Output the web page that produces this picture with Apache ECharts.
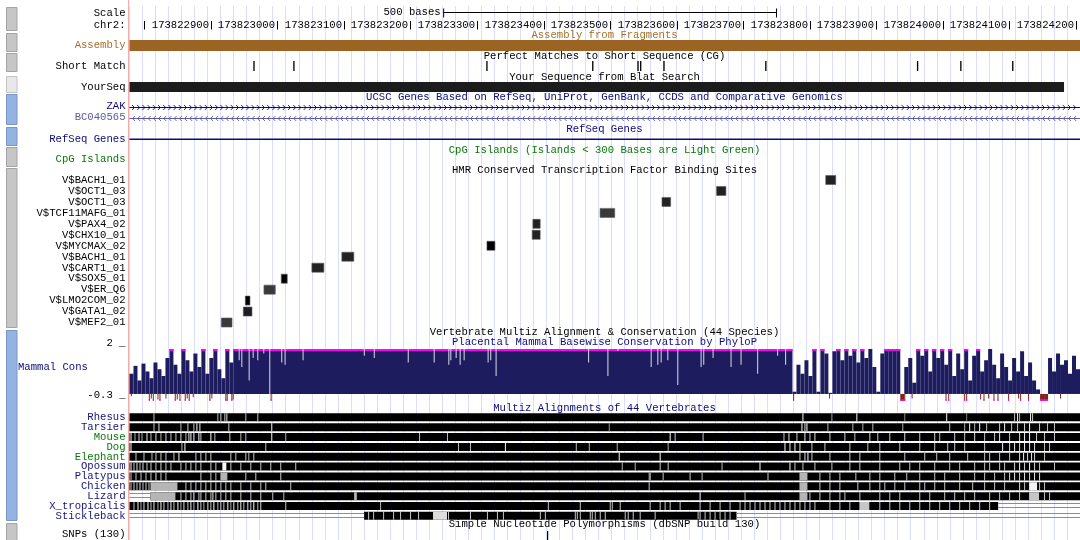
<!DOCTYPE html>
<html><head><meta charset="utf-8">
<script src="https://cdn.jsdelivr.net/npm/echarts@6/dist/echarts.min.js"></script>
<style>html,body{margin:0;padding:0;background:#fff}#c{width:1080px;height:540px}</style>
</head><body><div id="c"></div><script>
// ---------------- DATA ----------------
const chromName = 'chr2:';
const regionStart = 173822778;
const regionEnd = 173824206;
const tickValues = [173822800,173822900,173823000,173823100,173823200,173823300,173823400,173823500,173823600,173823700,173823800,173823900,173824000,173824100,173824200];
const scaleBarSpan = [173823250, 173823750];
const scaleBarLabel = '500 bases';
const assemblySpan = [173822778, 173824206];
const shortMatchStarts = [173822964,173823024,173823314,173823473,173823541,173823545,173823580,173823733,173823961,173824026,173824104];
const shortMatchLength = 2;
const yourSeqSpan = [173822778, 173824182];
const geneNames = ['ZAK', 'BC040565'];
const geneStrands = ['+', '-'];
const geneSpans = [[173822778, 173824206], [173822778, 173824206]];
const refSeqSpan = [173822778, 173824206];
const tfNames = ['V$BACH1_01','V$OCT1_03','V$OCT1_03','V$TCF11MAFG_01','V$PAX4_02','V$CHX10_01','V$MYCMAX_02','V$BACH1_01','V$CART1_01','V$SOX5_01','V$ER_Q6','V$LMO2COM_02','V$GATA1_02','V$MEF2_01'];
const tfStarts = [173823824,173823660,173823578,173823485,173823384,173823383,173823315,173823097,173823052,173823006,173822980,173822952,173822949,173822916];
const tfEnds   = [173823839,173823674,173823591,173823507,173823395,173823395,173823327,173823115,173823070,173823015,173822997,173822959,173822962,173822932];
const tfShades = [34,34,34,58,34,34,0,34,34,0,58,0,30,58];
// PhyloP conservation (6-base bins, values above 2 are clipped on display)
const consBinSize = 6;
const consLeftStart = 173822778;
const consLeftValues = [0.9,1.25,0.6,1.35,1.0,0.7,1.4,1.1,0.8,1.6,2.5,1.3,0.9,2.5,1.5,1.0,1.8,1.2,2.5,0.9,1.6,2.5,1.1,0.7,2.5,1.4];
const consCoreSpan = [173822934, 173823774];
const consCoreValue = 2.5;
const consRightStart = 173823774;
const consRightValues = [0.1,1.3,0.9,1.5,0.8,2.5,0.1,2.5,1.8,0.05,1.9,2.5,1.5,2.5,1.7,2.5,1.4,2.5,1.6,2.0,1.2,0.1,1.8,2.5,2.5,2.5,2.5,-0.5,1.2,1.6,0.5,2.5,1.7,2.5,1.0,2.5,1.6,2.5,1.3,2.5,0.8,1.8,1.1,2.5,0.6,1.7,2.5,1.0,1.5,2.0,1.3,0.7,1.8,1.2,0.6,1.6,1.0,1.9,0.8,1.4,0.6,0.2,-0.5,-0.5,1.6,1.0,1.8,1.3,1.5,0.9,1.7,1.1];
const consDips = [[173822942,1.5],[173822946,1.2],[173822957,0.6],[173822963,1.6],[173822970,1.5],[173822979,1.8],[173822988,0],[173823006,1.4],[173823011,1.3],[173823038,1.5],[173823130,1.7],[173823145,1.6],[173823196,1.4],[173823235,1.4],[173823257,1.3],[173823260,1.5],[173823268,1.6],[173823274,1.3],[173823280,1.5],[173823316,1.4],[173823320,1.5],[173823328,0.8],[173823467,1.4],[173823496,0.8],[173823511,1.9],[173823561,1.2],[173823571,1.3],[173823576,1.4],[173823586,1.5],[173823601,0.4],[173823636,1.2],[173823640,1.3],[173823654,1.6],[173823681,1.2],[173823696,1.3],[173823721,0.9],[173823751,1.7],[173823763,1.3]];
const consNegatives = [[173822780,-0.1],[173822807,-0.3],[173822810,-0.2],[173822813,-0.3],[173822820,-0.25],[173822823,-0.3],[173822832,-0.2],[173822846,-0.3],[173822849,-0.25],[173822853,-0.3],[173822861,-0.3],[173822864,-0.2],[173822867,-0.3],[173822873,-0.15],[173822898,-0.3],[173822901,-0.2],[173822922,-0.3],[173822924,-0.3],[173822931,-0.3],[173822933,-0.25],[173822990,-0.3],[173823775,-0.3],[173823829,-0.2],[173823938,-0.3],[173823942,-0.3],[173823953,-0.2],[173824004,-0.3],[173824008,-0.3],[173824032,-0.3],[173824035,-0.3],[173824056,-0.25],[173824061,-0.3],[173824068,-0.2],[173824076,-0.3],[173824082,-0.3],[173824098,-0.3],[173824113,-0.2],[173824116,-0.3],[173824128,-0.3],[173824176,-0.2]];
const consMin = -0.3, consMax = 2;
// Multiz alignments: marks are [offset from regionStart (bases), gray level, width in bases]
const speciesNames = ['Rhesus','Tarsier','Mouse','Dog','Elephant','Opossum','Platypus','Chicken','Lizard','X_tropicalis','Stickleback'];
const speciesColors = ['#14147a','#14147a','#0a780a','#0a780a','#0a780a','#14147a','#14147a','#14147a','#14147a','#14147a','#14147a'];
const mzRhesus = [[36,150],[132,140],[136.5,160],[142.5,150],[145.5,170],[174,140],[192,150],[1011,230],[1054.5,120],[1092,200],[1164,100],[1227,200],[1257,90],[1329,150],[1333.5,200],[1336.5,130],[1353,200],[1356,160]];
const mzTarsier = [[36,150],[43.5,170],[76.5,140],[87,160],[96,150],[100.5,200],[105,180],[148.5,160],[213,200],[720,110],[1009.5,200],[1014,170],[1017,200],[1048.5,140],[1086,140],[1101,130],[1116,140],[1161,130],[1231.5,150],[1254,130],[1261.5,200],[1269,140],[1276.5,200],[1287,150],[1306.5,160],[1314,200],[1324.5,150],[1333.5,150],[1344,170],[1351.5,200],[1366.5,160],[1378.5,150],[1389,150]];
const mzMouse = [[1.5,200],[7.5,130],[13.5,160],[18,130],[25.5,180],[31.5,140],[39,170],[46.5,130],[54,160],[61.5,140],[69,150],[76.5,170],[84,140],[88.5,180],[91.5,200],[96,210],[103.5,200],[106.5,150],[121.5,200],[127.5,140],[150,150],[166.5,130],[174,140],[213,230],[234,130],[435,140],[477,140],[811.5,200],[819,150],[861,150],[982.5,150],[990,170],[1002,150],[1014,180],[1021.5,150],[1029,170],[1051.5,150],[1074,160],[1089,140],[1111.5,160],[1123.5,150],[1141.5,150],[1164,170],[1186.5,150],[1209,160],[1216.5,140],[1239,160],[1254,150],[1269,170],[1284,150],[1299,160],[1306.5,180],[1321.5,150],[1336.5,170],[1344,200],[1351.5,210],[1362,160],[1374,150],[1389,150]];
const mzDog = [[1.5,200],[78,140],[82.5,200],[204,140],[493.5,140],[511.5,140],[564,200],[670.5,140],[690,130],[732,130],[808.5,130],[984,200],[991.5,180],[999,200],[1006.5,170],[1024.5,150],[1044,150],[1081.5,150],[1108.5,150],[1126.5,140],[1156.5,150],[1186.5,150],[1209,150],[1228.5,150],[1239,150],[1254,150],[1284,150],[1311,200],[1321.5,170],[1329,190],[1336.5,170],[1344,200],[1351.5,180],[1359,170],[1374,150],[1381.5,150]];
const mzElephant = [[9,150],[21,150],[33,140],[39,150],[46.5,150],[54,150],[66,150],[73.5,200],[99,150],[106.5,150],[114,150],[121.5,150],[151.5,150],[159,140],[174,150],[178.5,140],[186,150],[735,230],[796.5,200],[1006.5,150],[1014,170],[1018.5,200],[1024.5,150],[1051.5,150],[1081.5,150],[1096.5,150],[1126.5,150],[1164,150],[1194,150],[1212,150],[1231.5,150],[1258.5,150],[1284,150],[1291.5,150],[1306.5,150],[1321.5,150],[1336.5,170],[1342.5,190],[1348.5,170],[1354.5,190],[1359,160],[1374,150]];
const mzOpossum = [[1.5,200],[6,150],[10.5,180],[15,140],[19.5,170],[25.5,150],[31.5,160],[39,150],[46.5,160],[54,150],[61.5,150],[76.5,150],[84,150],[91.5,150],[99,150],[106.5,150],[121.5,150],[129,150],[139.5,200,6],[151.5,150],[166.5,150],[181.5,150],[196.5,150],[211.5,150],[226.5,150],[249,150],[739.5,130],[759,130],[796.5,150],[808.5,150],[889.5,140],[946.5,200],[991.5,200],[999,150],[1011,150],[1029,150],[1054.5,150],[1081.5,150],[1096.5,150],[1126.5,150],[1156.5,150],[1171.5,150],[1186.5,150],[1209,150],[1231.5,150],[1246.5,150],[1269,150],[1284,150],[1291.5,150],[1306.5,150],[1314,150],[1329,170],[1336.5,190],[1344,170],[1351.5,200],[1359,170],[1366.5,150],[1389,150]];
const mzPlatypus = [[1.5,150],[9,150],[16.5,150],[24,150],[31.5,150],[39,180],[46.5,150],[54,150],[106.5,150],[121.5,150],[129,140],[136.5,136,10.5],[174,150],[189,150],[226.5,150],[780,140],[781.5,150],[801,150],[841.5,150],[859.5,140],[958.5,150],[1006.5,136,12],[1036.5,150],[1051.5,150],[1066.5,150],[1090.5,150],[1111.5,150],[1126.5,150],[1149,150],[1167,150],[1186.5,150],[1209,150],[1224,150],[1246.5,150],[1269,150],[1284,150],[1299,150],[1314,150],[1321.5,170],[1329,190],[1336.5,170],[1344,190],[1351.5,170],[1359,190],[1366.5,170]];
const mzChicken = [[1.5,150],[6,160],[10.5,150],[15,170],[19.5,150],[24,160],[28.5,150],[31.5,136,40.5],[84,150],[91.5,150],[99,150],[106.5,150],[114,150],[121.5,150],[129,150],[136.5,150],[144,150],[151.5,150],[166.5,150],[181.5,150],[196.5,150],[204,150],[241.5,150],[780,150],[1006.5,136,12],[1036.5,150],[1051.5,150],[1066.5,150],[1093.5,150],[1111.5,150],[1126.5,150],[1134,150],[1149,150],[1164,150],[1186.5,150],[1194,150],[1209,150],[1224,150],[1246.5,150],[1266,150],[1284,150],[1299,150],[1314,150],[1336.5,170],[1344,150],[1351.5,190,12],[1366.5,150],[1374,150]];
const mzLizard = [[31.5,136,37.5],[76.5,150],[84,150],[91.5,150],[96,220],[103.5,150],[106.5,150],[114,150],[121.5,150],[124.5,180],[129,150],[136.5,150],[144,150],[151.5,150],[166.5,150],[181.5,150],[196.5,150],[214.5,150],[231,140],[337.5,140,4],[856.5,230],[924,140],[1006.5,136,12],[1021.5,150],[1036.5,150],[1051.5,150],[1066.5,150],[1074,150],[1096.5,150],[1126.5,150],[1141.5,150],[1156.5,150],[1186.5,150],[1201.5,150],[1224,150],[1239,150],[1254,150],[1269,150],[1291.5,150],[1306.5,150],[1321.5,150],[1336.5,150],[1351.5,150,15],[1374,150],[1381.5,150]];
const mzXtrop = [[6,150],[12,190],[16.5,130],[21,170],[27,210],[31.5,150],[36,180],[42,130],[46.5,200],[51,160],[57,140],[61.5,190],[66,150],[72,210],[76.5,130],[81,170],[87,150],[91.5,190],[96,140],[102,200],[106.5,160],[111,130],[117,180],[121.5,150],[126,210],[132,140],[136.5,170],[141,150],[147,200],[151.5,130],[156,180],[162,150],[166.5,190],[171,140],[177,170],[181.5,150],[186,200],[192,140],[196.5,170],[234,150],[376.5,140],[628.5,150],[676.5,150],[721.5,150],[724.5,150],[736.5,150],[781.5,150],[796.5,150],[804,150],[811.5,150],[826.5,150],[856.5,150],[871.5,150],[886.5,150],[901.5,150],[916.5,150],[924,150],[931.5,150],[939,150],[946.5,150],[954,150],[961.5,150],[969,150],[976.5,150],[984,150],[991.5,150],[999,150],[1006.5,150],[1014,150],[1021.5,150],[1029,150],[1051.5,150],[1066.5,150],[1081.5,150],[1096.5,150,15],[1126.5,150],[1141.5,150],[1156.5,150],[1171.5,150],[1186.5,150],[1201.5,150],[1216.5,150],[1231.5,150],[1246.5,150],[1261.5,150],[1276.5,150],[1291.5,150]];
const mzStickleback = [[358.5,150],[366,150],[381,150],[396,150],[406.5,150],[421.5,150],[433.5,150],[456,170,21],[478.5,150],[511.5,150],[537,150],[552,150],[561,150],[616.5,150],[624,150],[669,150],[672,150],[676.5,150],[691.5,150],[694.5,150],[699,150],[706.5,150],[714,150],[744,150],[748.5,150],[756,150],[766.5,150],[789,150],[853.5,150],[856.5,150],[864,150],[871.5,150],[879,150],[886.5,150],[894,150],[901.5,150]];
const mzUnaligned = [[8,0,31.5],[9,1305,1428],[10,0,352.5],[10,912,1428]];
const snpPositions = [173823405];

// ---------------- LAYOUT / STYLE ----------------
const FONT = '"Liberation Mono","DejaVu Sans Mono",monospace';
const FS = 10.6;
const NAVY = '#0c0c78';
const GREEN = '#0a780a';
const BROWN = '#9b6423';
const LEFT = 129.5;
const font = FS + 'px ' + FONT;

const grids = [], xAxes = [], yAxes = [], series = [];
function addGrid(top, height, yAxis, xAxis) {
  const i = grids.length;
  grids.push({left: LEFT, right: 0, top: top, height: height});
  xAxes.push(Object.assign({type: 'value', gridIndex: i, min: regionStart, max: regionEnd, show: false}, xAxis || {}));
  yAxes.push(Object.assign({gridIndex: i}, yAxis));
  return i;
}
function catAxis(names, color) {
  return {type: 'category', data: names, inverse: true,
    axisLine: {show: false}, axisTick: {show: false}, splitLine: {show: false},
    axisLabel: {interval: 0, margin: 4, fontFamily: FONT, fontSize: FS, color: color || '#000'}};
}
function gray(g) { return 'rgb(' + g + ',' + g + ',' + g + ')'; }

// guideline grid
const gGuide = addGrid(6, 534, {type: 'value', show: false},
  {min: 0, max: 73, interval: 1, show: true, axisLine: {show: false}, axisTick: {show: false}, axisLabel: {show: false},
   splitLine: {show: true, lineStyle: {color: '#dcdcff', width: 1}}});
grids[gGuide].bottom = 0; delete grids[gGuide].height;

// scale bar
const gScale = addGrid(7, 12, catAxis(['Scale']));
series.push({type: 'custom', xAxisIndex: gScale, yAxisIndex: gScale, data: [[scaleBarSpan[0], scaleBarSpan[1], 0]],
  encode: {x: [0, 1], y: 2},
  renderItem: function (p, api) {
    const a = api.coord([api.value(0), 0]), b = api.coord([api.value(1), 0]);
    const y = Math.round(a[1]) - 0.5;
    return {type: 'group', children: [
      {type: 'line', shape: {x1: a[0], y1: y, x2: b[0], y2: y}, style: {stroke: '#000', lineWidth: 1}},
      {type: 'line', shape: {x1: a[0], y1: y - 4, x2: a[0], y2: y + 5}, style: {stroke: '#000', lineWidth: 1}},
      {type: 'line', shape: {x1: b[0], y1: y - 4, x2: b[0], y2: y + 5}, style: {stroke: '#000', lineWidth: 1}},
      {type: 'text', style: {text: scaleBarLabel, x: a[0] - 3, y: y, align: 'right', verticalAlign: 'middle', font: font, fill: '#000'}}
    ]};
  }});

// position ticks
const gTicks = addGrid(19, 13, catAxis([chromName]));
series.push({type: 'custom', xAxisIndex: gTicks, yAxisIndex: gTicks, clip: true,
  data: tickValues.map(v => [v, 0]), encode: {x: 0, y: 1},
  renderItem: function (p, api) {
    const v = api.value(0);
    const c = api.coord([v, 0]);
    const x = Math.round(c[0]) + 0.5;
    const labelW = String(v).length * FS * 0.6;
    const ch = [{type: 'line', shape: {x1: x, y1: c[1] - 4.5, x2: x, y2: c[1] + 4}, style: {stroke: '#000', lineWidth: 1}}];
    if (x - 2.5 - labelW >= LEFT) ch.push({type: 'text', style: {text: String(v), x: x - 2.5, y: c[1], align: 'right', verticalAlign: 'middle', font: font, fill: '#000'}});
    return {type: 'group', children: ch};
  }});

// generic span bar
function spanSeries(g, spans, color) {
  series.push({type: 'custom', xAxisIndex: g, yAxisIndex: g, clip: true,
    data: spans.map(s => [s[0], s[1], 0]), encode: {x: [0, 1], y: 2},
    renderItem: function (p, api) {
      const a = api.coord([api.value(0), 0]), b = api.coord([api.value(1), 0]);
      const h = api.size([0, 1])[1];
      return {type: 'rect', shape: {x: a[0], y: a[1] - h / 2, width: b[0] - a[0], height: h}, style: {fill: color}};
    }});
}
const gAsm = addGrid(40, 11, catAxis(['Assembly'], '#a2702c'));
spanSeries(gAsm, [assemblySpan], BROWN);

const gShort = addGrid(61, 10, catAxis(['Short Match']));
series.push({type: 'custom', xAxisIndex: gShort, yAxisIndex: gShort, clip: true,
  data: shortMatchStarts.map(s => [s, s + shortMatchLength, 0]), encode: {x: [0, 1], y: 2},
  renderItem: function (p, api) {
    const a = api.coord([api.value(0), 0]), b = api.coord([api.value(1), 0]);
    const h = api.size([0, 1])[1];
    return {type: 'rect', shape: {x: a[0], y: a[1] - h / 2, width: Math.max(b[0] - a[0], 1), height: h}, style: {fill: '#000'}};
  }});

const gYour = addGrid(82, 10, catAxis(['YourSeq']));
spanSeries(gYour, [yourSeqSpan], '#1c1c1c');

const geneColors = [NAVY, '#5a5a9e'];
const gGenes = addGrid(101, 22, catAxis(geneNames, function (v, i) { return geneColors[i]; }));
series.push({type: 'custom', xAxisIndex: gGenes, yAxisIndex: gGenes, clip: true,
  data: geneSpans.map((s, i) => [s[0], s[1], i]), encode: {x: [0, 1], y: 2},
  renderItem: function (p, api) {
    const row = api.value(2);
    const a = api.coord([api.value(0), row]), b = api.coord([api.value(1), row]);
    const y = Math.round(a[1]) + 0.5;
    const dir = geneStrands[row] === '+' ? 1 : -1;
    const col = geneColors[row];
    const ch = [{type: 'line', shape: {x1: a[0], y1: y, x2: b[0], y2: y}, style: {stroke: col, lineWidth: 1}}];
    for (let x = a[0] + 4; x < b[0] - 2; x += 5.2) {
      ch.push({type: 'polyline', shape: {points: [[x - dir * 1.5, y - 2.5], [x + dir * 1, y], [x - dir * 1.5, y + 2.5]]}, style: {stroke: col, fill: null, lineWidth: 0.9}});
    }
    return {type: 'group', children: ch};
  }});

const gRef = addGrid(134, 10, catAxis(['RefSeq Genes'], NAVY));
series.push({type: 'custom', xAxisIndex: gRef, yAxisIndex: gRef, clip: true,
  data: [[refSeqSpan[0], refSeqSpan[1], 0]], encode: {x: [0, 1], y: 2},
  renderItem: function (p, api) {
    const a = api.coord([api.value(0), 0]), b = api.coord([api.value(1), 0]);
    return {type: 'rect', shape: {x: a[0], y: Math.round(a[1]) - 0.5, width: b[0] - a[0], height: 1.6}, style: {fill: NAVY}};
  }});

const gCpg = addGrid(154.5, 10, catAxis(['CpG Islands'], GREEN));

const gTf = addGrid(174.5, 153.5, catAxis(tfNames));
series.push({type: 'custom', xAxisIndex: gTf, yAxisIndex: gTf, clip: true,
  data: tfNames.map((n, i) => [tfStarts[i], tfEnds[i], i, tfShades[i]]), encode: {x: [0, 1], y: 2},
  renderItem: function (p, api) {
    const row = api.value(2), g = api.value(3);
    const a = api.coord([api.value(0), row]), b = api.coord([api.value(1), row]);
    return {type: 'rect', shape: {x: a[0], y: a[1] - 4.5, width: b[0] - a[0], height: 9},
      style: {fill: gray(g), stroke: 'rgba(90,90,90,0.6)', lineWidth: 1}};
  }});

// conservation
const gCons = addGrid(349, 51.7, {type: 'value', min: consMin, max: consMax,
  axisLine: {show: false}, splitLine: {show: false},
  axisTick: {show: false},
  axisLabel: {customValues: [consMin, consMax], margin: 4, fontFamily: FONT, fontSize: FS, color: '#000', verticalAlign: 'bottom',
    formatter: function (v) { return (Math.abs(v - consMax) < 1e-6 ? '2' : '-0.3') + ' _'; }}});
const consItems = [];
consLeftValues.forEach((v, i) => consItems.push([consLeftStart + i * consBinSize, consLeftStart + (i + 1) * consBinSize, v]));
consItems.push([consCoreSpan[0], consCoreSpan[1], consCoreValue]);
consRightValues.forEach((v, i) => consItems.push([consRightStart + i * consBinSize, consRightStart + (i + 1) * consBinSize, v]));
const CONS_POS = '#1c1c5e', CONS_NEG = '#86201e', CLIP = '#ff00ff';
function consShape(api, s, e, v) {
  const p0 = api.coord([s, 0]), p1 = api.coord([e, 0]);
  const x = p0[0], w = Math.max(p1[0] - p0[0], 1);
  const y0 = p0[1];
  const ch = [];
  if (v > 0) {
    const yt = api.coord([s, Math.min(v, consMax)])[1];
    ch.push({type: 'rect', shape: {x: x, y: yt, width: w, height: y0 - yt}, style: {fill: CONS_POS}});
    if (v > consMax) ch.push({type: 'rect', shape: {x: x, y: yt, width: w, height: 2}, style: {fill: CLIP}});
  } else if (v < 0) {
    const yb = api.coord([s, Math.max(v, consMin)])[1];
    ch.push({type: 'rect', shape: {x: x, y: y0, width: w, height: yb - y0}, style: {fill: CONS_NEG}});
    if (v <= consMin) ch.push({type: 'rect', shape: {x: x, y: yb - 1.5, width: w, height: 1.5}, style: {fill: CLIP}});
  }
  return ch;
}
series.push({type: 'custom', xAxisIndex: gCons, yAxisIndex: gCons, clip: false,
  data: consItems, encode: {x: [0, 1], y: 2},
  renderItem: function (p, api) { return {type: 'group', children: consShape(api, api.value(0), api.value(1), api.value(2))}; }});
series.push({type: 'custom', xAxisIndex: gCons, yAxisIndex: gCons, clip: false,
  data: consNegatives.map(d => [d[0], d[0] + 1.5, d[1]]), encode: {x: [0, 1], y: 2},
  renderItem: function (p, api) { return {type: 'group', children: consShape(api, api.value(0), api.value(1), api.value(2))}; }});
series.push({type: 'custom', xAxisIndex: gCons, yAxisIndex: gCons, clip: false,
  data: consDips.map(d => [d[0], d[0] + 1.5, d[1]]), encode: {x: [0, 1], y: 2},
  renderItem: function (p, api) {
    const s = api.value(0), e = api.value(1), v = api.value(2);
    const p0 = api.coord([s, v]), p1 = api.coord([e, consMax]);
    return {type: 'rect', shape: {x: p0[0], y: p1[1], width: Math.max(p1[0] - p0[0], 1), height: p0[1] - p1[1]}, style: {fill: '#dcdcec'}};
  }});

// multiz
const mzMarks = [mzRhesus, mzTarsier, mzMouse, mzDog, mzElephant, mzOpossum, mzPlatypus, mzChicken, mzLizard, mzXtrop, mzStickleback];
const gMz = addGrid(412.4, 108.35, catAxis(speciesNames, function (v, i) { return speciesColors[i]; }));
const mzItems = [];
const span = regionEnd - regionStart;
speciesNames.forEach(function (n, row) {
  const un = mzUnaligned.filter(u => u[0] === row).sort((a, b) => a[1] - b[1]);
  let cur = 0;
  un.forEach(function (u) {
    if (u[1] > cur) mzItems.push([regionStart + cur, regionStart + u[1], row, 0, 0]);
    mzItems.push([regionStart + u[1], regionStart + u[2], row, 0, 1]);
    cur = u[2];
  });
  if (cur < span) mzItems.push([regionStart + cur, regionEnd, row, 0, 0]);
});
mzMarks.forEach(function (marks, row) {
  marks.forEach(m => mzItems.push([regionStart + m[0], regionStart + m[0] + (m[2] || 1.5), row, m[1], 0]));
});
series.push({type: 'custom', xAxisIndex: gMz, yAxisIndex: gMz, clip: true,
  data: mzItems, encode: {x: [0, 1], y: 2},
  renderItem: function (p, api) {
    const row = api.value(2), g = api.value(3), k = api.value(4);
    const a = api.coord([api.value(0), row]), b = api.coord([api.value(1), row]);
    const w = Math.max(b[0] - a[0], 1);
    if (k === 1) {
      const y = Math.round(a[1]);
      return {type: 'group', children: [
        {type: 'rect', shape: {x: a[0], y: y - 3, width: w, height: 1}, style: {fill: '#8c8c8c'}},
        {type: 'rect', shape: {x: a[0], y: y + 1, width: w, height: 1}, style: {fill: '#8c8c8c'}}
      ]};
    }
    const shade = g === 0 ? 0 : Math.min(250, Math.round(g * 1.15 + 25));
    return {type: 'rect', shape: {x: a[0], y: a[1] - 4, width: w, height: 8}, style: {fill: gray(shade)}};
  }});

// SNPs
const gSnp = addGrid(529, 11, catAxis(['SNPs (130)']));
series.push({type: 'custom', xAxisIndex: gSnp, yAxisIndex: gSnp, clip: true,
  data: snpPositions.map(s => [s, s + 1, 0]), encode: {x: [0, 1], y: 2},
  renderItem: function (p, api) {
    const a = api.coord([api.value(0), 0]);
    return {type: 'rect', shape: {x: Math.round(a[0]), y: a[1] - 3.5, width: 1.2, height: 10}, style: {fill: '#000'}};
  }});

// ---------------- decorations ----------------
const titles = [
  ['Assembly from Fragments', 35, '#a2702c'],
  ['Perfect Matches to Short Sequence (CG)', 56, '#000'],
  ['Your Sequence from Blat Search', 76.7, '#000'],
  ['UCSC Genes Based on RefSeq, UniProt, GenBank, CCDS and Comparative Genomics', 97.3, NAVY],
  ['RefSeq Genes', 128.7, NAVY],
  ['CpG Islands (Islands < 300 Bases are Light Green)', 149.8, GREEN],
  ['HMR Conserved Transcription Factor Binding Sites', 170.3, '#000'],
  ['Vertebrate Multiz Alignment & Conservation (44 Species)', 331.7, '#000'],
  ['Placental Mammal Basewise Conservation by PhyloP', 342.5, NAVY],
  ['Multiz Alignments of 44 Vertebrates', 407.8, NAVY],
  ['Simple Nucleotide Polymorphisms (dbSNP build 130)', 524.3, '#000']
];
const buttons = [[7,31,'g'],[33,52,'g'],[53,72,'g'],[76,93,'w'],[94,125,'b'],[127,146,'b'],[147,167,'g'],[168,328,'g'],[330,521,'b'],[523,545,'g']];
const btnFill = {g: '#c6c6c6', w: '#e8e8e8', b: '#94b3e1'};
const btnStroke = {g: '#a4a4a4', w: '#c4c4c4', b: '#7896c6'};
const graphic = [];
buttons.forEach(b => graphic.push({type: 'rect', shape: {x: 6.5, y: b[0] + 0.5, width: 10.5, height: b[1] - b[0] - 1}, style: {fill: btnFill[b[2]], stroke: btnStroke[b[2]], lineWidth: 1}, z: 5}));
graphic.push({type: 'line', shape: {x1: 128.5, y1: 0, x2: 128.5, y2: 540}, style: {stroke: '#f6a9a9', lineWidth: 1}, z: 5});
titles.forEach(t => graphic.push({type: 'text', x: 604.5, y: t[1], style: {text: t[0], align: 'center', verticalAlign: 'middle', font: font, fill: t[2]}, z: 10}));
graphic.push({type: 'text', x: 18, y: 367.3, style: {text: 'Mammal Cons', align: 'left', verticalAlign: 'middle', font: font, fill: NAVY}, z: 10});

const chart = echarts.init(document.getElementById('c'), null, {width: 1080, height: 540});
chart.setOption({
  animation: false,
  backgroundColor: '#fff',
  grid: grids, xAxis: xAxes, yAxis: yAxes, series: series, graphic: graphic
});
</script></body></html>
